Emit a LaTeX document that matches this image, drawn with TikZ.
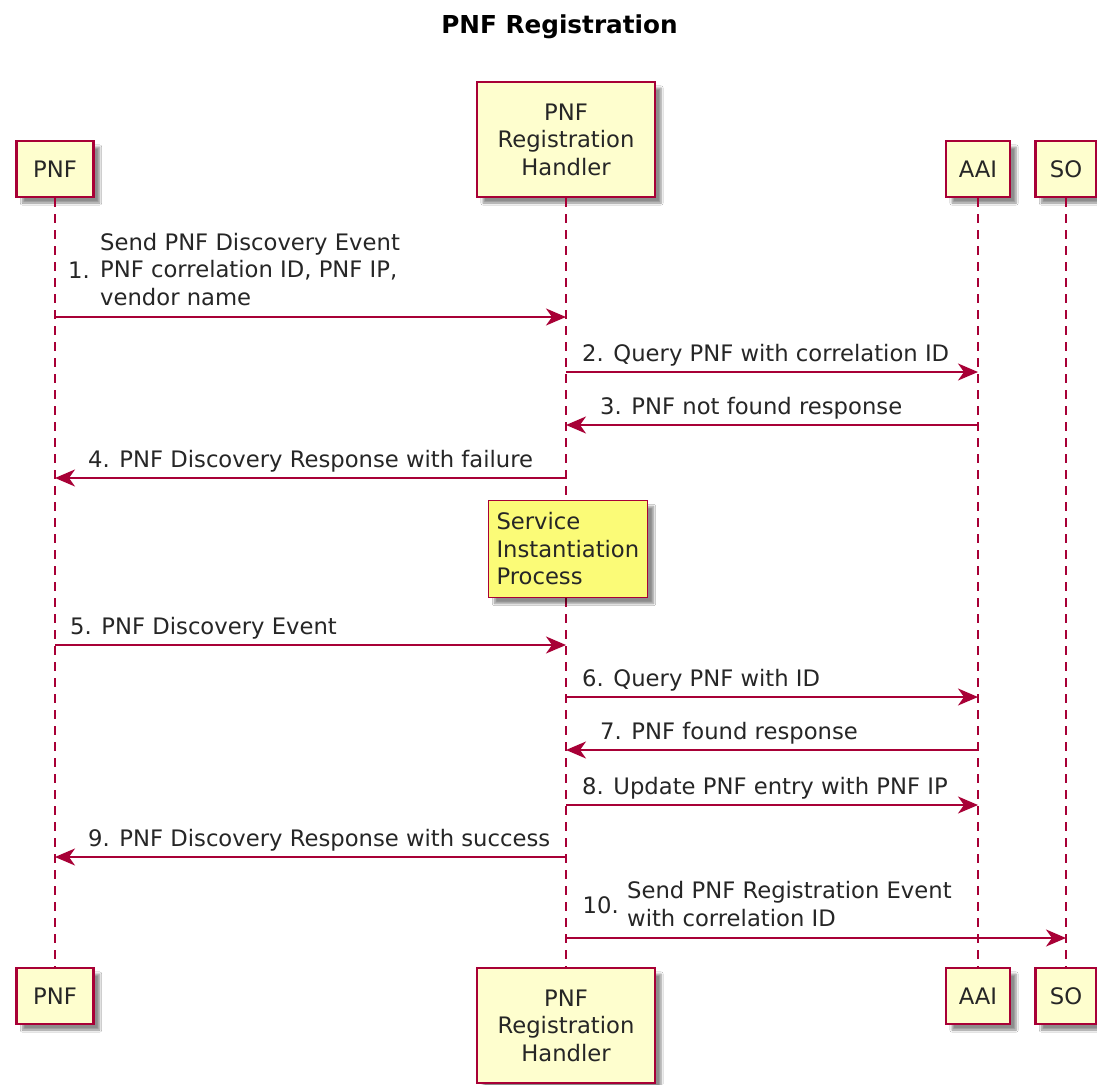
\documentclass[tikz,border=0pt]{standalone}
\usepackage{fontspec}
\setmainfont{DejaVu Sans}
\usetikzlibrary{arrows.meta,shadows.blur}
\definecolor{umlred}{HTML}{A80036}
\definecolor{umlfill}{HTML}{FEFECE}
\definecolor{notefill}{HTML}{FBFB77}
\begin{document}
\begin{tikzpicture}[x=1pt,y=-1pt,
  body/.style={font=\fontsize{22.7}{27.5}\selectfont, text=black!85},
  shad/.style={blur shadow={shadow xshift=6pt, shadow yshift=-6pt, shadow opacity=45, shadow blur steps=6}},
  part/.style={body, draw=umlred, line width=2.4pt, fill=umlfill, inner sep=0pt, align=center, shad},
  pone/.style={part, minimum height=56pt},
  pthree/.style={part, minimum height=115pt},
  notebox/.style={body, draw=umlred, line width=1.8pt, fill=notefill, inner sep=8pt, align=left, shad},
  life/.style={umlred, line width=1.6pt, dash pattern=on 9pt off 7pt},
  msg/.style={umlred, line width=1.8pt, -{Stealth[length=20pt, width=17pt, inset=6pt]}},
  lbl/.style={body, inner sep=0pt, anchor=base west},
  mlbl/.style={body, inner sep=0pt, anchor=south west, align=left},
  ]
\useasboundingbox (0,0) rectangle (1097,1084);
\fill[white] (0,0) rectangle (1097,1084);

% title
\node[font=\bfseries\fontsize{24.7}{29}\selectfont, anchor=base, inner sep=0pt] (title) at (559.5,33) {PNF Registration};

% participants (top)
\node[pone, minimum width=77pt] (pnfT) at (55,169) {PNF};
\node[pthree, minimum width=178pt] (prhT) at (566,139.5) {PNF\\Registration\\Handler};
\node[pone, minimum width=64pt] (aaiT) at (978,169) {AAI};
\node[pone, minimum width=61pt] (soT) at (1066,169) {SO};

% participants (bottom)
\node[pone, minimum width=77pt] (pnfB) at (55,996) {PNF};
\node[pthree, minimum width=178pt] (prhB) at (566,1025.5) {PNF\\Registration\\Handler};
\node[pone, minimum width=64pt] (aaiB) at (978,996) {AAI};
\node[pone, minimum width=61pt] (soB) at (1066,996) {SO};

% lifelines
\draw[life] (pnfT.south) -- (pnfB.north);
\draw[life] (prhT.south) -- (prhB.north);
\draw[life] (aaiT.south) -- (aaiB.north);
\draw[life] (soT.south) -- (soB.north);

% note
\node[notebox, minimum width=159pt, minimum height=97pt, text width=143pt] (note) at (568,549) {Service\\Instantiation\\Process};

% messages
\draw[msg] (pnfT.south |- 0,317) -- (prhT.south |- 0,317);
\node[lbl, anchor=base east] (n1) at (90,278.5) {1.};
\node[mlbl] (t1) at (100,306) {Send PNF Discovery Event\\PNF correlation ID, PNF IP,\\vendor name};

\draw[msg] (prhT.south |- 0,372) -- (aaiT.south |- 0,372);
\node[lbl] (t2) at (582,361) {2. Query PNF with correlation ID};

\draw[msg] (aaiT.south |- 0,425) -- (prhT.south |- 0,425);
\node[lbl] (t3) at (600,414) {3. PNF not found response};

\draw[msg] (prhT.south |- 0,478) -- (pnfT.south |- 0,478);
\node[lbl] (t4) at (88,467) {4. PNF Discovery Response with failure};

\draw[msg] (pnfT.south |- 0,645) -- (prhT.south |- 0,645);
\node[lbl] (t5) at (70,634) {5. PNF Discovery Event};

\draw[msg] (prhT.south |- 0,697) -- (aaiT.south |- 0,697);
\node[lbl] (t6) at (582,686) {6. Query PNF with ID};

\draw[msg] (aaiT.south |- 0,750) -- (prhT.south |- 0,750);
\node[lbl] (t7) at (600,739) {7. PNF found response};

\draw[msg] (prhT.south |- 0,805) -- (aaiT.south |- 0,805);
\node[lbl] (t8) at (582,794) {8. Update PNF entry with PNF IP};

\draw[msg] (prhT.south |- 0,857) -- (pnfT.south |- 0,857);
\node[lbl] (t9) at (88,846) {9. PNF Discovery Response with success};

\draw[msg] (prhT.south |- 0,938) -- (soT.south |- 0,938);
\node[lbl, anchor=base east] (n10) at (619,913) {10.};
\node[mlbl] (t10) at (627,927) {Send PNF Registration Event\\with correlation ID};
\end{tikzpicture}
\end{document}
